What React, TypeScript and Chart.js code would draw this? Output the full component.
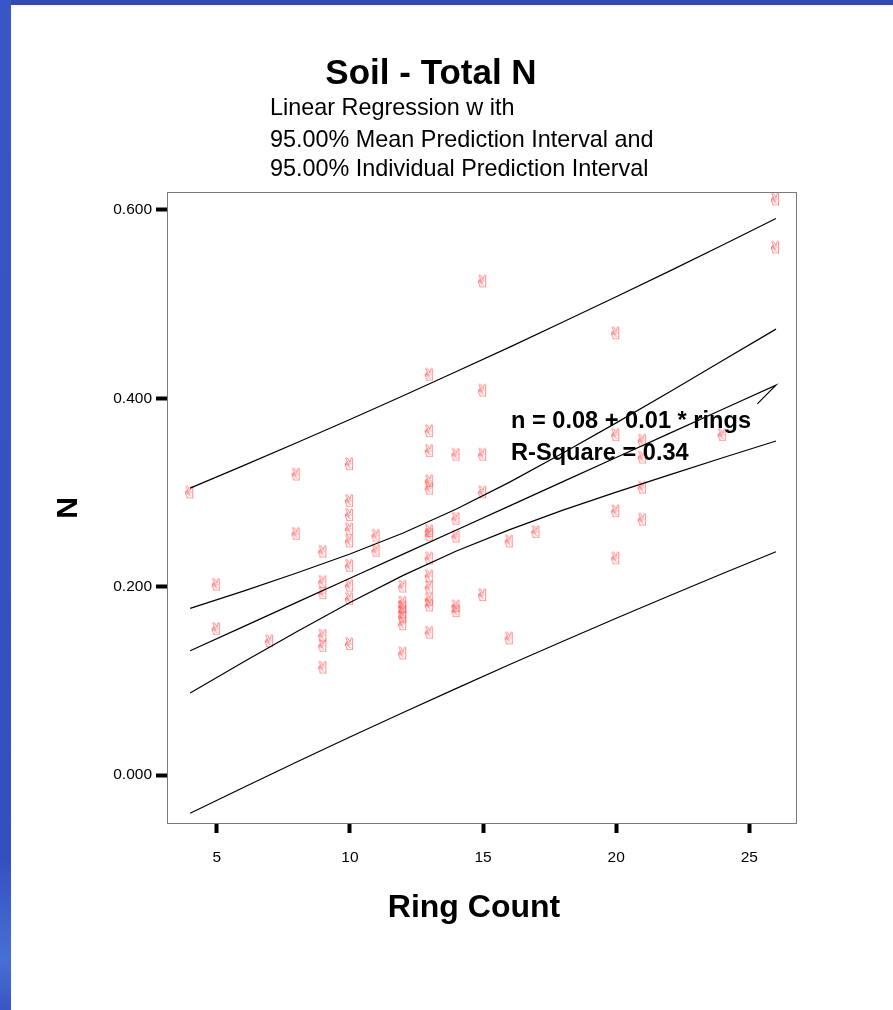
import React, { useEffect, useRef } from 'react';
import { Chart, registerables } from 'chart.js';

Chart.register(...registerables);

const FONT = '"Liberation Sans", Arial, Helvetica, sans-serif';

const chartTitle = 'Soil - Total N';
const subtitleLines = [
  'Linear Regression w ith',
  '95.00% Mean Prediction Interval and',
  '95.00% Individual Prediction Interval',
];
const annotationLines = ['n = 0.08 + 0.01 * rings', 'R-Square = 0.34'];
const xAxisTitle = 'Ring Count';
const yAxisTitle = 'N';
const xTickValues = [5, 10, 15, 20, 25];
const yTickValues = [0, 0.2, 0.4, 0.6];

// observed samples (ring count, total N)
const ringsObs = [
  4,
  5, 5,
  7,
  8, 8,
  9, 9, 9, 9, 9, 9,
  10, 10, 10, 10, 10, 10, 10, 10, 10,
  11, 11,
  12, 12, 12, 12, 12, 12, 12,
  13, 13, 13, 13, 13, 13, 13, 13, 13, 13, 13, 13, 13,
  14, 14, 14, 14, 14,
  15, 15, 15, 15, 15,
  16, 16,
  17,
  20, 20, 20, 20,
  21, 21, 21, 21,
  24,
  26, 26,
];
const nObs = [
  0.298,
  0.2, 0.153,
  0.14,
  0.317, 0.254,
  0.235, 0.203, 0.191, 0.146, 0.135, 0.112,
  0.328, 0.289, 0.274, 0.259, 0.246, 0.22, 0.199, 0.185, 0.137,
  0.252, 0.236,
  0.198, 0.181, 0.176, 0.171, 0.166, 0.158, 0.127,
  0.423, 0.363, 0.342, 0.31, 0.302, 0.257, 0.253, 0.228, 0.209, 0.197, 0.184, 0.178, 0.149,
  0.338, 0.27, 0.251, 0.177, 0.172,
  0.522, 0.406, 0.338, 0.298, 0.189,
  0.246, 0.143,
  0.256,
  0.467, 0.359, 0.278, 0.228,
  0.353, 0.335, 0.303, 0.269,
  0.359,
  0.609, 0.558,
];

// regression curves
const curveRings = [4, 6, 8, 10, 12, 14, 16, 18, 20, 22, 24, 26];
const upperIndividual = [0.3046, 0.3285, 0.3528, 0.3775, 0.4027, 0.4284, 0.4543, 0.4809, 0.5078, 0.535, 0.5628, 0.5909];
const upperMean = [0.177, 0.1953, 0.2145, 0.2347, 0.257, 0.2825, 0.311, 0.3418, 0.3739, 0.4067, 0.44, 0.4734];
const fitLine = [0.132, 0.1576, 0.1833, 0.2089, 0.2345, 0.2602, 0.2858, 0.3115, 0.3371, 0.3627, 0.3884, 0.414];
const lowerMean = [0.087, 0.1199, 0.1521, 0.1831, 0.212, 0.2379, 0.2606, 0.2812, 0.3003, 0.3187, 0.3368, 0.3546];
const lowerIndividual = [-0.0406, -0.0133, 0.0138, 0.0403, 0.0663, 0.092, 0.1173, 0.1421, 0.1664, 0.1904, 0.214, 0.2371];
// small return stroke at the end of the fit line
const fitHookRings = [25.3];
const fitHookN = [0.394];

const X_MIN = 3.13;
const X_MAX = 26.79;
const Y_MIN = -0.052;
const Y_MAX = 0.619;

function makeGlyph(): HTMLCanvasElement {
  const c = document.createElement('canvas');
  c.width = 20;
  c.height = 20;
  const g = c.getContext('2d')!;
  g.font = '17px "DejaVu Sans"';
  g.fillStyle = 'rgba(255,70,70,0.85)';
  g.textAlign = 'center';
  g.textBaseline = 'middle';
  g.translate(10, 10);
  g.scale(1.45, 1);
  g.fillText('\u270C', 0, 0);
  return c;
}

const decorPlugin = {
  id: 'decor',
  afterDatasetsDraw(chart: any) {
    const { ctx, chartArea: a } = chart;
    ctx.save();
    ctx.strokeStyle = '#7a7a7a';
    ctx.lineWidth = 1;
    ctx.strokeRect(a.left + 0.5, a.top + 0.5, a.right - a.left - 1, a.bottom - a.top - 1);

    ctx.fillStyle = '#000';
    ctx.textAlign = 'left';
    ctx.textBaseline = 'alphabetic';
    ctx.font = `bold 23.6px ${FONT}`;
    annotationLines.forEach((t, i) => {
      ctx.fillText(t, a.left + 344, a.top + 236 + i * 32);
    });

    ctx.textAlign = 'center';
    ctx.font = `bold 35px ${FONT}`;
    ctx.fillText(chartTitle, 431, 84);

    ctx.font = `bold 32px ${FONT}`;
    ctx.fillText(xAxisTitle, 474, 917);

    ctx.textAlign = 'left';
    ctx.font = `23.4px ${FONT}`;
    const base = [115, 147, 176];
    subtitleLines.forEach((t, i) => ctx.fillText(t, 270, base[i]));
    ctx.restore();
  },
};

export default function App() {
  const ref = useRef<HTMLCanvasElement>(null);

  useEffect(() => {
    if (!ref.current) return;
    const glyph = makeGlyph();
    const curve = (vals: number[]) => curveRings.map((x, i) => ({ x, y: vals[i] }));
    const fitData = curve(fitLine).concat(fitHookRings.map((x, i) => ({ x, y: fitHookN[i] })));
    const lineStyle = {
      type: 'line' as const,
      borderColor: '#000',
      borderWidth: 1.2,
      pointRadius: 0,
      fill: false,
      tension: 0,
    };

    const chart = new Chart(ref.current, {
      type: 'scatter',
      data: {
        datasets: [
          { ...lineStyle, label: 'upper individual', data: curve(upperIndividual) },
          { ...lineStyle, label: 'upper mean', data: curve(upperMean) },
          { ...lineStyle, label: 'fit', data: fitData },
          { ...lineStyle, label: 'lower mean', data: curve(lowerMean) },
          { ...lineStyle, label: 'lower individual', data: curve(lowerIndividual) },
          {
            type: 'scatter' as const,
            label: 'N',
            data: ringsObs.map((x, i) => ({ x, y: nObs[i] })),
            pointStyle: glyph as any,
            pointRadius: 8,
          },
        ],
      } as any,
      options: {
        animation: false,
        responsive: false,
        devicePixelRatio: 1,
        layout: { padding: { top: 192, right: 96, bottom: 0, left: 0 } },
        plugins: {
          legend: { display: false },
          tooltip: { enabled: false },
        },
        scales: {
          x: {
            type: 'linear',
            position: 'bottom',
            min: X_MIN,
            max: X_MAX,
            afterBuildTicks: (s: any) => {
              s.ticks = xTickValues.map((v) => ({ value: v }));
            },
            afterFit: (s: any) => {
              s.height = 186;
            },
            grid: {
              drawOnChartArea: false,
              drawTicks: true,
              tickLength: 9,
              tickWidth: 4,
              tickColor: '#000',
            },
            border: { display: false },
            ticks: {
              color: '#000',
              padding: 15,
              maxRotation: 0,
              font: { family: FONT, size: 15.5 },
              callback: (v: any) => String(v),
            },
            title: { display: false },
          },
          y: {
            type: 'linear',
            position: 'left',
            min: Y_MIN,
            max: Y_MAX,
            afterBuildTicks: (s: any) => {
              s.ticks = yTickValues.map((v) => ({ value: v }));
            },
            afterFit: (s: any) => {
              s.width = 167;
            },
            grid: {
              drawOnChartArea: false,
              drawTicks: true,
              tickLength: 11,
              tickWidth: 4,
              tickColor: '#000',
            },
            border: { display: false },
            ticks: {
              color: '#000',
              padding: 4,
              font: { family: FONT, size: 15.5 },
              callback: (v: any) => Number(v).toFixed(3),
            },
            title: {
              display: true,
              text: yAxisTitle,
              color: '#000',
              font: { family: FONT, size: 30, weight: 'bold' },
              padding: { top: 51, bottom: 0 },
            },
          },
        },
      } as any,
      plugins: [decorPlugin],
    });
    return () => chart.destroy();
  }, []);

  return (
    <div
      style={{
        position: 'absolute',
        left: 0,
        top: 0,
        width: 893,
        height: 1010,
        background: '#fff',
        overflow: 'hidden',
      }}
    >
      <div style={{ position: 'absolute', left: 0, top: 0, width: 893, height: 5, background: '#324bb2' }} />
      <div
        style={{
          position: 'absolute',
          left: 0,
          top: 0,
          width: 11,
          height: 1010,
          background: 'linear-gradient(#3a56c6, #3450c0 85%, #4670d6 95%, #3a55c4)',
        }}
      />
      <canvas ref={ref} width={893} height={1010} style={{ position: 'absolute', left: 0, top: 0 }} />
    </div>
  );
}
